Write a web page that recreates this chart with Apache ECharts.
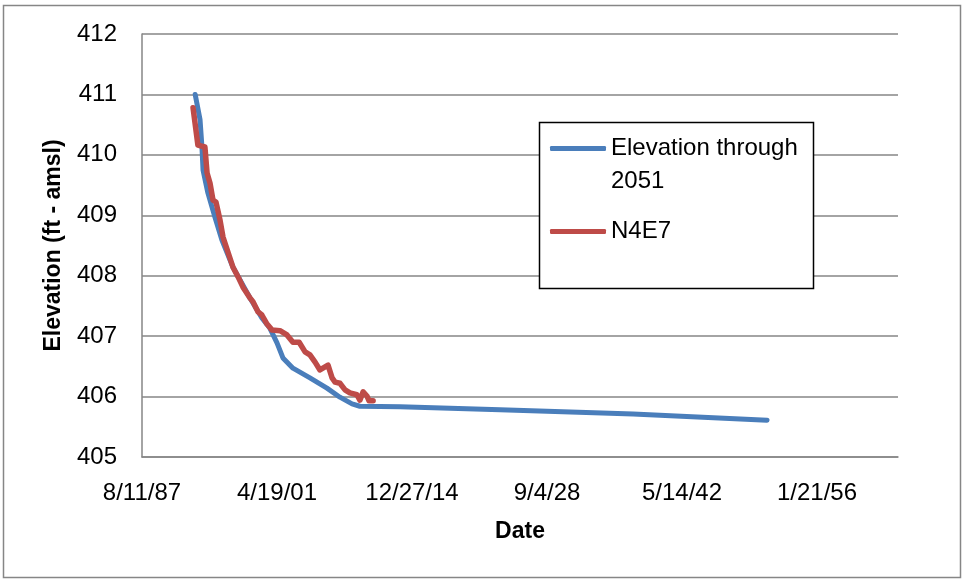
<!DOCTYPE html>
<html>
<head>
<meta charset="utf-8">
<script src="https://cdn.jsdelivr.net/npm/echarts@6/dist/echarts.min.js"></script>
<style>
html,body{margin:0;padding:0;background:#fff;}
#chart{width:963px;height:581px;}
</style>
</head>
<body>
<div id="chart"></div>
<script>
// Dates are Excel serial day numbers
var xTicks = [32000, 37000, 42000, 47000, 52000, 57000];
var yTicks = [405, 406, 407, 408, 409, 410, 411, 412];

var seriesNames = ['Elevation through 2051', 'N4E7'];

var blueDates = [33970, 34150, 34220, 34260, 34440, 34700, 34960, 35370, 36000, 36440, 36740, 37000, 37220, 37590, 38220, 38850, 39330, 39780, 40070, 41560, 45260, 50190, 55150];
var blueElev  = [411.00, 410.58, 410.13, 409.75, 409.37, 408.97, 408.59, 408.14, 407.63, 407.30, 407.13, 406.89, 406.64, 406.47, 406.31, 406.14, 405.99, 405.88, 405.84, 405.83, 405.78, 405.71, 405.61];

var redDates = [33890, 34070, 34330, 34410, 34520, 34630, 34740, 34890, 35000, 35370, 35560, 35740, 36000, 36110, 36300, 36440, 36630, 36820, 37110, 37370, 37590, 37820, 38040, 38220, 38410, 38590, 38780, 38890, 39040, 39150, 39330, 39520, 39700, 39960, 40070, 40190, 40330, 40410, 40560];
var redElev  = [410.78, 410.16, 410.13, 409.70, 409.53, 409.25, 409.22, 408.92, 408.64, 408.14, 407.98, 407.81, 407.63, 407.57, 407.40, 407.35, 407.20, 407.10, 407.09, 407.02, 406.90, 406.90, 406.74, 406.69, 406.57, 406.44, 406.49, 406.52, 406.31, 406.24, 406.22, 406.11, 406.06, 406.03, 405.94, 406.08, 406.01, 405.93, 405.93];

function zip(xs, ys) { return xs.map(function (x, i) { return [x, ys[i]]; }); }

function serialToLabel(s) {
  var d = new Date(Date.UTC(1899, 11, 30) + s * 86400000);
  var yy = d.getUTCFullYear() % 100;
  return (d.getUTCMonth() + 1) + '/' + d.getUTCDate() + '/' + (yy < 10 ? '0' + yy : yy);
}

var FONT = "'Liberation Sans', Arial, sans-serif";
var chart = echarts.init(document.getElementById('chart'), null, {renderer: 'canvas'});

chart.setOption({
  backgroundColor: '#fff',
  animation: false,
  textStyle: {fontFamily: FONT},
  grid: {left: 142, top: 34, right: 65, bottom: 124, containLabel: false},
  xAxis: {
    type: 'value',
    min: xTicks[0],
    max: 60000,
    interval: xTicks[1] - xTicks[0],
    name: 'Date',
    nameLocation: 'middle',
    nameGap: 63,
    nameTextStyle: {fontFamily: FONT, fontSize: 23, fontWeight: 'bold', color: '#000'},
    axisLine: {show: true, lineStyle: {color: '#868686', width: 1.5}},
    axisTick: {show: false},
    splitLine: {show: false},
    axisLabel: {
      margin: 24,
      fontFamily: FONT, fontSize: 24, color: '#000',
      showMaxLabel: false,
      formatter: function (v) { return xTicks.indexOf(v) >= 0 ? serialToLabel(v) : ''; }
    }
  },
  yAxis: {
    type: 'value',
    min: yTicks[0],
    max: yTicks[yTicks.length - 1],
    interval: 1,
    name: 'Elevation (ft - amsl)',
    nameLocation: 'middle',
    nameRotate: 90,
    nameGap: 77,
    nameTextStyle: {fontFamily: FONT, fontSize: 23, fontWeight: 'bold', color: '#000'},
    axisLine: {show: true, lineStyle: {color: '#868686', width: 1.5}},
    axisTick: {show: false},
    splitLine: {show: true, lineStyle: {color: '#868686', width: 1.5}},
    axisLabel: {margin: 25, fontFamily: FONT, fontSize: 24, color: '#000'}
  },
  legend: {
    orient: 'vertical',
    left: 550,
    top: 99,
    padding: 0,
    itemGap: 17,
    itemWidth: 56,
    itemHeight: 5,
    icon: 'roundRect',
    z: 10,
    data: seriesNames,
    formatter: function (name) {
      return name === seriesNames[0] ? '\nElevation through\n2051' : name;
    },
    textStyle: {fontFamily: FONT, fontSize: 24, lineHeight: 33, color: '#000'}
  },
  graphic: [
    {type: 'rect', z: 100, silent: true,
     shape: {x: 3.5, y: 5.5, width: 957, height: 572},
     style: {fill: 'none', stroke: '#868686', lineWidth: 1.5}},
    {type: 'rect', z: 3, silent: true,
     shape: {x: 539.5, y: 122.5, width: 274, height: 166},
     style: {fill: '#fff', stroke: '#000', lineWidth: 1.5}}
  ],
  series: [
    {
      name: seriesNames[0],
      type: 'line',
      data: zip(blueDates, blueElev),
      showSymbol: false,
      color: '#4A7EBB',
      lineStyle: {color: '#4A7EBB', width: 5, cap: 'round', join: 'round'}
    },
    {
      name: seriesNames[1],
      type: 'line',
      data: zip(redDates, redElev),
      showSymbol: false,
      color: '#BE4B48',
      lineStyle: {color: '#BE4B48', width: 5.5, cap: 'round', join: 'round'}
    }
  ]
});
</script>
</body>
</html>
